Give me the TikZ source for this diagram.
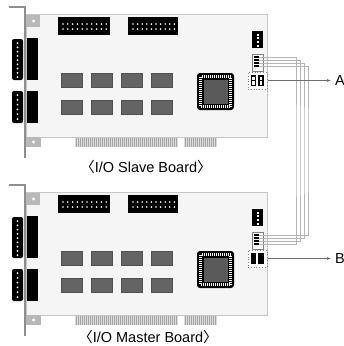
\documentclass[tikz,border=0pt]{standalone}
\usepackage{fontspec}
\setmainfont{Liberation Sans}
\newfontfamily\cjk{Noto Sans CJK KR}
\usetikzlibrary{arrows.meta}
\definecolor{boardfill}{HTML}{F5F5F5}
\definecolor{boardline}{HTML}{C6C6C6}
\definecolor{bracketgray}{HTML}{8E8E8E}
\definecolor{tabgray}{HTML}{B8B8B8}
\definecolor{chipgray}{HTML}{646464}
\definecolor{cablegray}{HTML}{B4B4B4}
\definecolor{fingergray}{HTML}{DCDCDC}
\definecolor{arrowgray}{HTML}{6E6E6E}
\begin{document}
\begin{tikzpicture}[x=1pt,y=-1pt,
    board/.style={fill=boardfill,draw=boardline,line width=0.8pt},
    blk/.style={fill=black},
    pin/.style={fill=white},
    chip/.style={fill=chipgray,draw=chipgray!80!black,line width=0.4pt},
    jumper/.style={draw=gray,dotted,line width=0.8pt,fill=white,minimum width=19pt,minimum height=17pt,inner sep=0pt},
    cable/.style={draw=cablegray,line width=0.7pt},
    pointer/.style={draw=arrowgray,line width=0.6pt,-{Latex[length=4pt,width=3pt]}},
    caption/.style={font=\fontsize{14.5}{17}\selectfont},
    letter/.style={font=\fontsize{14.5}{17}\selectfont,inner sep=0pt}]
\useasboundingbox (0,0) rectangle (344,346);

\foreach \oy/\b in {0/s,178/m}{
  \begin{scope}[shift={(0,\oy)}]
    \draw[board] (26,14) rectangle (267,137);
    \fill[tabgray] (26,15) rectangle (40,27);
    \fill[white] (33.5,21) circle (1.7);
    \fill[tabgray] (26,137) rectangle (41,147);
    \fill[white] (33.5,142) circle (1.7);
    \draw[bracketgray,line width=1.6pt] (9,7) -- (25,7) -- (25,158);

    \fill[fingergray] (75,137.5) rectangle (178,147);
    \fill[fingergray] (184,137.5) rectangle (217,147);
    \foreach \x in {76,78,...,177} \draw[gray!70,line width=0.5pt] (\x,138) -- (\x,147);
    \foreach \x in {185,187,...,216} \draw[gray!70,line width=0.5pt] (\x,138) -- (\x,147);

    \fill[blk,rounded corners=2pt] (12,39) rectangle (23,80);
    \foreach \i in {0,...,8} \fill[pin] (17.5,{43+4.25*\i}) circle (1);
    \fill[blk] (27,38) rectangle (38,80);
    \fill[blk,rounded corners=2pt] (12,91) rectangle (23,123);
    \foreach \i in {0,...,5} \fill[pin] (17.5,{95+4.8*\i}) circle (1);
    \fill[blk] (27,91) rectangle (38,123);

    \fill[blk] (58,17) rectangle (110,35);
    \fill[blk] (128,17) rectangle (178,35);
    \foreach \i in {0,...,9}{
      \fill[pin] ({63+4.8*\i},24) circle (0.9);
      \fill[pin] ({63+4.8*\i},29) circle (0.9);
      \fill[pin] ({133+4.6*\i},24) circle (0.9);
      \fill[pin] ({133+4.6*\i},29) circle (0.9);
    }

    \foreach \c in {0,...,3}{
      \draw[chip] ({61+30*\c},73.5) rectangle ({82+30*\c},87.5);
      \draw[chip] ({61+30*\c},100) rectangle ({82+30*\c},114);
    }

    \fill[blk,rounded corners=3pt] (197,73) rectangle (234,110);
    \draw[white,line width=2.4pt,dash pattern=on 1pt off 1pt] (200.5,76.5) rectangle (230.5,106.5);
    \draw[fill=chipgray!90!black,draw=black,line width=0.5pt] (203,79) rectangle (228,104);

    \fill[blk] (252,31) rectangle (263,48);
    \foreach \i in {0,...,3} \fill[pin] (256.5,{33.5+3.8*\i}) rectangle (258.5,{35.5+3.8*\i});

    \draw[fill=white,draw=gray,line width=0.7pt] (252,54) rectangle (263,71);
    \foreach \i in {0,...,3}{
      \draw[line width=1.4pt] (254,{57+3*\i}) -- (259,{57+3*\i});
      \coordinate (\b pin\i) at (259,{57+3*\i});
    }

    \node[jumper] (\b jump) at (257.5,80.5) {};
  \end{scope}
}

\fill[blk] (250.5,75) rectangle (256,86);
\fill[blk] (258,75) rectangle (263.5,86);
\foreach \x in {252,259.5}{
  \fill[pin] (\x,76.5) rectangle ({\x+2.5},79.8);
  \fill[pin] (\x,81.2) rectangle ({\x+2.5},84.5);
}
\fill[blk] (250.5,253) rectangle (256,264);
\fill[blk] (258,253) rectangle (263.5,264);

\foreach \i in {0,...,3}{
  \pgfmathtruncatemacro\j{3-\i}
  \coordinate (bend\i) at ({296+4*\i},150);
  \draw[cable] (spin\i) -| (bend\i) |- (mpin\j);
}

\node[caption] (scap) at (146,167) {{\cjk 〈}I/O Slave Board{\cjk 〉}};
\node[caption] (mcap) at (148,337) {{\cjk 〈}I/O Master Board{\cjk 〉}};

\node[letter,anchor=west] (lblA) at (335,80.5) {A};
\node[letter,anchor=west] (lblB) at (335,258.5) {B};
\draw[pointer] (sjump.east) ++(1,0) -- ([xshift=-4pt]lblA.west);
\draw[pointer] (mjump.east) ++(1,0) -- ([xshift=-4pt]lblB.west);
\end{tikzpicture}
\end{document}
